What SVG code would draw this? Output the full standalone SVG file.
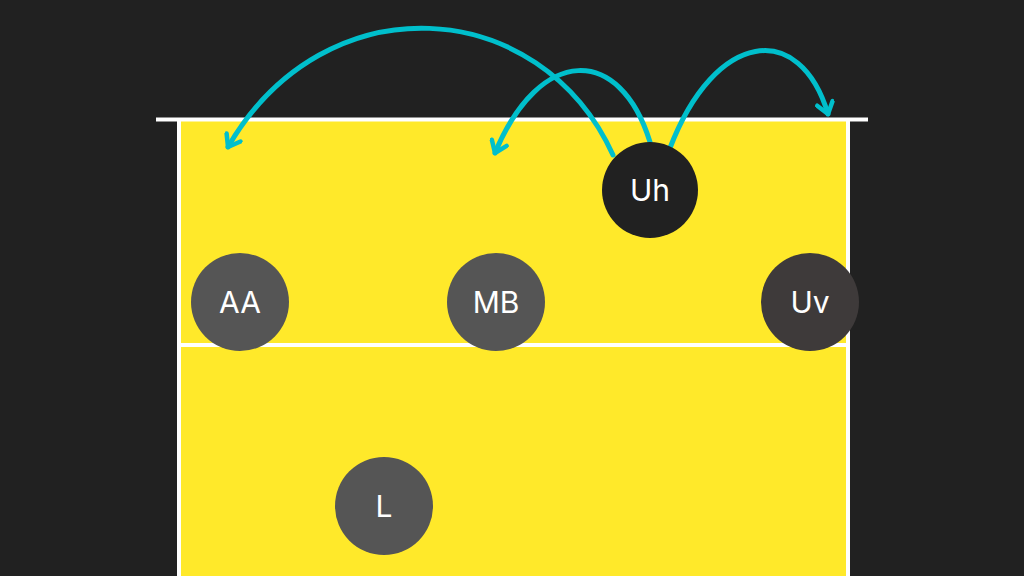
<svg xmlns="http://www.w3.org/2000/svg" width="1024" height="576" viewBox="0 0 1024 576">
<style>
.line{stroke:#ffffff;stroke-width:4;fill:none}
.arc{stroke:#00bfcc;stroke-width:5;fill:none;stroke-linecap:round}
.lbl{font-family:Inter,"Open Sans","Liberation Sans",sans-serif;font-size:30px;fill:#ffffff;text-anchor:middle;dominant-baseline:central}
</style>
<defs>
<marker id="ah" viewBox="0 0 20 20" refX="14" refY="10" markerWidth="20" markerHeight="20" markerUnits="userSpaceOnUse" orient="auto">
<path d="M3,2 L14,10 L3,18" fill="none" stroke="#00bfcc" stroke-width="4.5" stroke-linecap="round" stroke-linejoin="round"/>
</marker>
</defs>
<rect width="1024" height="576" fill="#212121"/>
<g id="court">
<rect x="179" y="120" width="669" height="460" fill="#ffe92a"/>
<line class="line" x1="156" y1="119.5" x2="868" y2="119.5"/>
<line class="line" x1="179" y1="119" x2="179" y2="580"/>
<line class="line" x1="848" y1="119" x2="848" y2="580"/>
<line class="line" x1="179" y1="345" x2="848" y2="345"/>
</g>
<g id="connectors">
<path class="arc" d="M613,155 C540,-5 325,-20 228,147" marker-end="url(#ah)"/>
<path class="arc" d="M650,142 C620,45 540,45 495,153" marker-end="url(#ah)"/>
<path class="arc" d="M670,148 C715,30 800,20 828,114" marker-end="url(#ah)"/>
</g>
<g id="Uh"><circle cx="650" cy="190" r="48" fill="#212121"/><text class="lbl" x="650" y="190">Uh</text></g>
<g id="AA"><circle cx="240" cy="302" r="49" fill="#555555"/><text class="lbl" x="240" y="302">AA</text></g>
<g id="MB"><circle cx="496" cy="302" r="49" fill="#555555"/><text class="lbl" x="496" y="302">MB</text></g>
<g id="Uv"><circle cx="810" cy="302" r="49" fill="#3e3a3a"/><text class="lbl" x="810" y="302">Uv</text></g>
<g id="L"><circle cx="384" cy="506" r="49" fill="#555555"/><text class="lbl" x="384" y="506">L</text></g>
</svg>
